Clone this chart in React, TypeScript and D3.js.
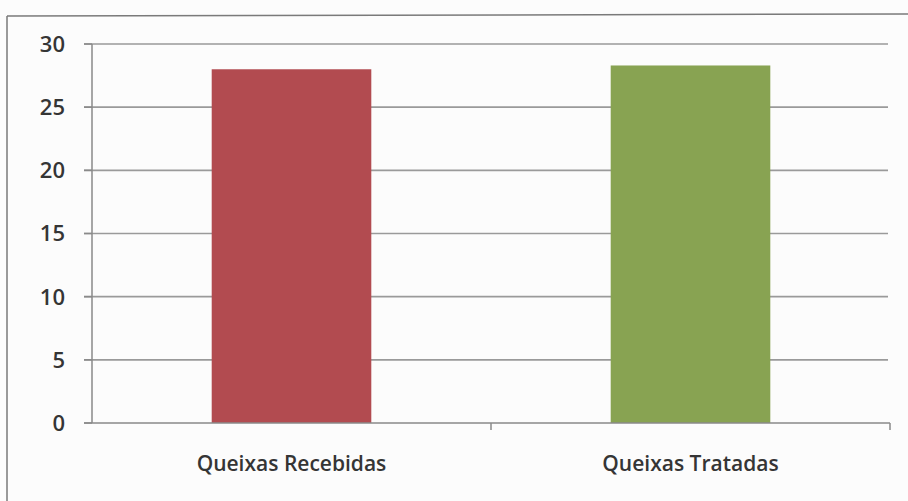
import React from "react";
import * as d3 from "d3";

const categories = ["Queixas Recebidas", "Queixas Tratadas"];
const values = [28.0, 28.3];
const barColors = ["#b24b50", "#88a352"];
const yTicks = [0, 5, 10, 15, 20, 25, 30];

export default function App() {
  const W = 908;
  const H = 501;
  const left = 92;
  const right = 890;
  const top = 44;
  const bottom = 423;

  const x = d3.scaleBand<string>().domain(categories).range([left, right]).padding(0);
  const y = d3.scaleLinear().domain([0, 30]).range([bottom, top]);
  const barW = x.bandwidth() * 0.4;

  return (
    <svg
      width={W}
      height={H}
      style={{ position: "absolute", left: 0, top: 0, background: "#fdfdfd" }}
      fontFamily="'Open Sans', 'Noto Sans', sans-serif"
    >
      <rect x={0} y={0} width={W} height={H} fill="#fcfcfc" />
      {/* outer frame */}
      <line x1={7} y1={16} x2={W} y2={14} stroke="#7a7a7a" strokeWidth={1.5} />
      <line x1={7} y1={16} x2={7} y2={H} stroke="#7a7a7a" strokeWidth={1.5} />

      {/* gridlines */}
      {yTicks.slice(1).map((t) => (
        <line key={t} x1={84} x2={888} y1={y(t)} y2={y(t)} stroke="#9a9a9a" strokeWidth={1.6} />
      ))}

      {/* bars */}
      {categories.map((c, i) => (
        <rect
          key={c}
          x={(x(c) as number) + x.bandwidth() / 2 - barW / 2}
          y={y(values[i])}
          width={barW}
          height={bottom - y(values[i])}
          fill={barColors[i]}
        />
      ))}

      {/* y axis */}
      <line x1={left} x2={left} y1={top} y2={bottom} stroke="#8a8a8a" strokeWidth={1.5} />
      {yTicks.map((t) => (
        <line key={"tk" + t} x1={84} x2={left} y1={y(t)} y2={y(t)} stroke="#8a8a8a" strokeWidth={1.5} />
      ))}
      {/* x axis */}
      <line x1={84} x2={right} y1={bottom} y2={bottom} stroke="#8a8a8a" strokeWidth={1.5} />
      {categories.map((c) => (
        <line
          key={"xt" + c}
          x1={(x(c) as number) + x.bandwidth()}
          x2={(x(c) as number) + x.bandwidth()}
          y1={bottom}
          y2={bottom + 7}
          stroke="#8a8a8a"
          strokeWidth={1.5}
        />
      ))}

      {/* y tick labels */}
      {yTicks.map((t) => (
        <text
          key={"yl" + t}
          x={65}
          y={y(t)}
          dy="0.36em"
          textAnchor="end"
          fontSize={22}
          fontWeight={600}
          fill="#353535"
        >
          {t}
        </text>
      ))}

      {/* x labels */}
      {categories.map((c) => (
        <text
          key={"xl" + c}
          x={(x(c) as number) + x.bandwidth() / 2}
          y={471}
          textAnchor="middle"
          fontSize={21}
          fontWeight={600}
          fill="#353535"
        >
          {c}
        </text>
      ))}
    </svg>
  );
}
